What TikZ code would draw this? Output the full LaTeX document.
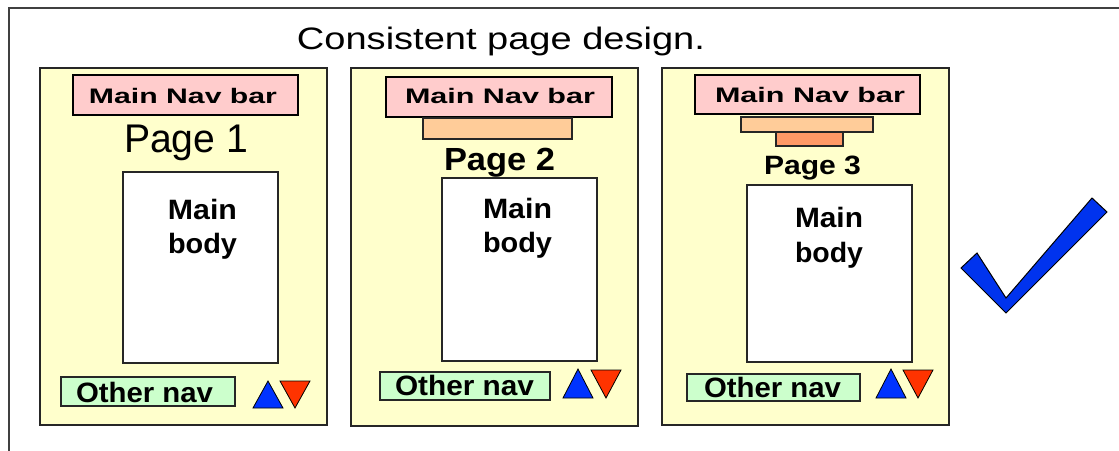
\documentclass[tikz,border=0pt]{standalone}
\usepackage{fontspec}
\setmainfont{Liberation Sans}
\usepackage{graphicx}
\definecolor{panelc}{HTML}{FFFFCC}
\definecolor{navc}{HTML}{FFCCCC}
\definecolor{othc}{HTML}{CCFFCC}
\definecolor{peachc}{HTML}{FFCC99}
\definecolor{orangec}{HTML}{FF9966}
\definecolor{bluec}{HTML}{0033FF}
\definecolor{redc}{HTML}{FF3300}
\definecolor{checkc}{HTML}{0033EE}
\newcommand{\fw}[3]{\resizebox{#1pt}{\height}{\fontsize{#2}{#2}\selectfont #3}}
\begin{document}
\begin{tikzpicture}[x=1pt,y=-1pt,
  panelbox/.style={draw=black!85, line width=1.8pt, fill=panelc},
  navbox/.style={draw=black, line width=1.6pt, fill=navc},
  othbox/.style={draw=black!85, line width=1.6pt, fill=othc},
  bodybox/.style={draw=black!85, line width=1.6pt, fill=white},
  peachbox/.style={draw=black!85, line width=1.4pt, fill=peachc},
  orangebox/.style={draw=black!85, line width=1.4pt, fill=orangec},
  upt/.style={draw=black, line width=0.8pt, fill=bluec, line join=miter},
  dnt/.style={draw=black, line width=0.8pt, fill=redc, line join=miter},
  lbl/.style={anchor=base, inner sep=0pt, outer sep=0pt}]
\useasboundingbox (0,0) rectangle (1119,450);
\fill[white] (0,0) rectangle (1119,450);
\draw[line width=2pt, draw=black!75] (9,452) -- (9,8) -- (1121,8);
\node[lbl] (title) at (501,49) {\fw{408}{31}{Consistent page design.}};
% Panel 1
\draw[panelbox] (40,68) rectangle (327,425);
\draw[navbox] (73,75) rectangle (298,115);
\node[lbl] (nav1) at (183,103) {\fw{188}{21}{\bfseries Main Nav bar}};
\node[lbl] (pg1) at (186,152) {\fw{124}{40}{Page 1}};
\draw[bodybox] (123,172) rectangle (278,363);
\node[lbl] (m1) at (202.5,219) {\fw{69}{28}{\bfseries Main}};
\node[lbl] (b1) at (202.5,253) {\fw{69}{28}{\bfseries body}};
\draw[othbox] (61,377) rectangle (235,406);
\node[lbl] (o1) at (144.5,402) {\fw{137}{28}{\bfseries Other nav}};
\draw[upt] (253,408) -- (268,381) -- (283,408) -- cycle;
\draw[dnt] (280,381) -- (310,381) -- (295,408) -- cycle;
% Panel 2
\draw[panelbox] (351,68) rectangle (638,426);
\draw[navbox] (386,77) rectangle (612,117);
\node[lbl] (nav2) at (500,103) {\fw{190}{21}{\bfseries Main Nav bar}};
\draw[peachbox] (423,118) rectangle (572,139);
\node[lbl] (pg2) at (499.5,170) {\fw{111}{32}{\bfseries Page 2}};
\draw[bodybox] (442,178) rectangle (597,361);
\node[lbl] (m2) at (517.5,218) {\fw{69}{28}{\bfseries Main}};
\node[lbl] (b2) at (517.5,252) {\fw{69}{28}{\bfseries body}};
\draw[othbox] (380,372) rectangle (550,400);
\node[lbl] (o2) at (464.5,395) {\fw{139}{28}{\bfseries Other nav}};
\draw[upt] (563,398) -- (578,369) -- (593,398) -- cycle;
\draw[dnt] (591,370) -- (621,370) -- (606,398) -- cycle;
% Panel 3
\draw[panelbox] (662,68) rectangle (949,425);
\draw[navbox] (695,75) rectangle (920,114);
\node[lbl] (nav3) at (810,102) {\fw{190}{21}{\bfseries Main Nav bar}};
\draw[peachbox] (741,117) rectangle (873,132);
\draw[orangebox] (776,132) rectangle (843,146);
\node[lbl] (pg3) at (812.5,174) {\fw{97}{26.5}{\bfseries Page 3}};
\draw[bodybox] (747,185) rectangle (912,362);
\node[lbl] (m3) at (829,227) {\fw{68}{28}{\bfseries Main}};
\node[lbl] (b3) at (829,262) {\fw{68}{28}{\bfseries body}};
\draw[othbox] (687,374) rectangle (860,401);
\node[lbl] (o3) at (772.5,397) {\fw{137}{28}{\bfseries Other nav}};
\draw[upt] (876,398) -- (891,369) -- (906,398) -- cycle;
\draw[dnt] (903,370) -- (933,370) -- (918,398) -- cycle;
% Check mark
\draw[draw=black, line width=1pt, fill=checkc, line join=miter]
  (961,268) -- (977,253) -- (1006,298) -- (1092,198) -- (1107,212) -- (1006,313) -- cycle;
\end{tikzpicture}
\end{document}
